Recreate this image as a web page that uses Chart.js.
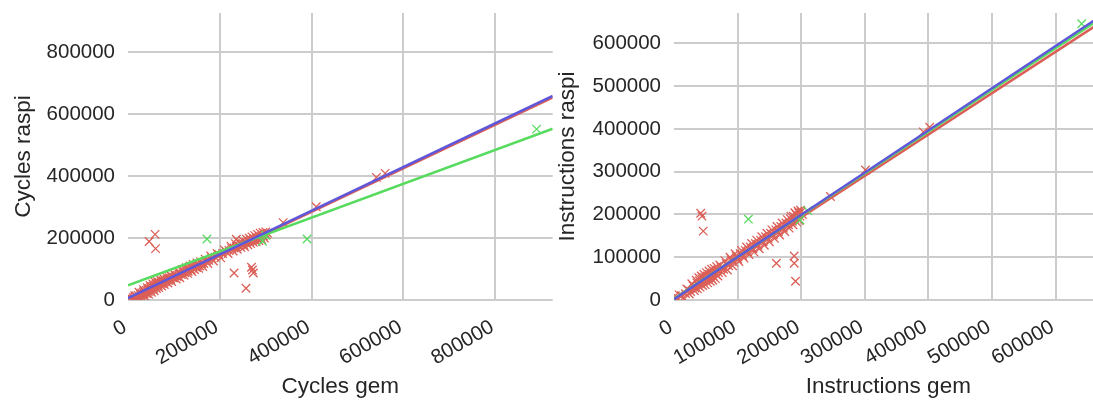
<!DOCTYPE html>
<html>
<head>
<meta charset="utf-8">
<script src="https://cdn.jsdelivr.net/npm/chart.js@4/dist/chart.umd.min.js"></script>
<style>
  html, body { margin: 0; padding: 0; background: #fff; overflow: hidden; }
  .box { position: absolute; top: 0; height: 400px; }
  #leftBox { left: 0; width: 560px; }
  #rightBox { left: 553px; width: 557px; }
</style>
</head>
<body>
<div id="leftBox" class="box"><canvas id="cyclesChart"></canvas></div>
<div id="rightBox" class="box"><canvas id="instrChart"></canvas></div>
<script>
// cycles: gem (x) vs raspi (y)
var cyclesTicks = [0, 200000, 400000, 600000, 800000];
var cyclesRed = [
  [8000,3000],[12000,8000],[14000,2000],[18000,12000],[20000,5000],[22000,15000],[25000,9000],[27000,18000],
  [28000,13000],[30000,22000],[32000,16000],[33000,26000],[35000,20000],[36000,28000],[38000,24000],[40000,31000],
  [41000,21000],[43000,34000],[44000,27000],[46000,37000],[47000,30000],[49000,40000],[50000,33000],[52000,43000],
  [53000,36000],[55000,45000],[56000,38000],[58000,48000],[60000,42000],[61000,51000],[63000,45000],[65000,54000],
  [66000,47000],[68000,57000],[70000,51000],[72000,60000],[74000,53000],[76000,62000],[78000,57000],[80000,65000],
  [82000,59000],[85000,66000],[88000,63000],[90000,72000],[93000,67000],[96000,75000],[99000,72000],[103000,79000],
  [107000,76000],[111000,84000],[116000,82000],[120000,90000],[124000,88000],[128000,96000],[131000,93000],
  [134000,100000],[137000,97000],[140000,104000],[143000,101000],[146000,108000],[149000,105000],[152000,112000],
  [156000,110000],[160000,117000],[165000,118000],[170000,126000],[176000,128000],[182000,134000],[190000,138000],
  [198000,146000],[206000,150000],[214000,156000],[220000,160000],[226000,166000],[231000,168000],[236000,172000],
  [240000,176000],[244000,174000],[248000,181000],[252000,178000],[256000,186000],[259000,183000],[262000,190000],
  [265000,187000],[268000,194000],[271000,191000],[274000,198000],[277000,195000],[280000,202000],[283000,199000],
  [286000,206000],[289000,203000],[292000,210000],[295000,207000],[298000,214000],[301000,211000],[304000,216000],
  [15000,14000],[19000,0],[24000,25000],[29000,4000],[34000,33000],[37000,12000],[42000,40000],[45000,19000],
  [48000,47000],[51000,25000],[54000,52000],[57000,30000],[59000,58000],[62000,37000],[64000,60000],[67000,40000],
  [71000,65000],[73000,45000],[77000,70000],[79000,50000],[84000,74000],[87000,55000],[92000,80000],[95000,60000],
  [100000,85000],[105000,68000],[110000,92000],[113000,72000],[118000,98000],[122000,80000],[127000,104000],
  [130000,86000],[135000,110000],[139000,92000],[142000,115000],[145000,98000],[150000,120000],[154000,102000],
  [158000,124000],[163000,108000],[168000,132000],[174000,118000],[180000,142000],[186000,126000],[194000,150000],
  [202000,136000],[210000,162000],[218000,150000],[224000,174000],[229000,158000],[234000,182000],[238000,164000],
  [242000,186000],[246000,170000],[250000,192000],[254000,172000],[258000,196000],[261000,178000],[264000,200000],
  [267000,182000],[270000,204000],[273000,186000],[276000,208000],[279000,188000],[282000,212000],[285000,192000],
  [288000,216000],[291000,196000],[294000,218000],[297000,200000],[300000,220000],
  [46000,189000],[59000,212000],[60000,166000],[231000,87000],[257000,38000],[269000,106000],[271000,97000],
  [273000,87000],[236000,196000],[338000,250000],[410000,301000],[541000,396000],[560000,409000],[2000,12000]
];
var cyclesGreen = [[172000,197000],[390000,197000],[890000,552000],[300000,209000],[293000,190000]];
var cyclesFitX = [0, 925000];
var cyclesFitRed = [4000, 654000];
var cyclesFitGreen = [47000, 553000];
var cyclesFitBlue = [6000, 659000];

// instructions: gem (x) vs raspi (y)
var instrTicks = [0, 100000, 200000, 300000, 400000, 500000, 600000];
var instrRed = [
  [4000,2000],[12000,10000],[18000,15000],[22000,24000],[26000,20000],[30000,33000],[33000,28000],[36000,40000],
  [38000,34000],[40000,45000],[42000,38000],[44000,50000],[46000,42000],[48000,53000],[50000,46000],[52000,56000],
  [54000,48000],[56000,60000],[58000,52000],[60000,63000],[62000,55000],[64000,66000],[66000,60000],[68000,70000],
  [70000,64000],[74000,76000],[78000,72000],[82000,85000],[86000,80000],[90000,94000],[94000,88000],[98000,102000],
  [100000,96000],[104000,108000],[108000,104000],[112000,116000],[116000,112000],[120000,124000],[124000,120000],
  [128000,132000],[132000,128000],[136000,140000],[140000,136000],[144000,148000],[148000,144000],[152000,156000],
  [156000,152000],[160000,164000],[164000,160000],[168000,172000],[172000,168000],[176000,180000],[180000,176000],
  [183000,190000],[186000,184000],[188000,196000],[190000,188000],[192000,200000],[194000,192000],[196000,204000],
  [198000,196000],[200000,206000],[202000,200000],
  [8000,12000],[14000,4000],[20000,26000],[24000,14000],[28000,38000],[32000,22000],[35000,46000],[37000,26000],
  [39000,52000],[41000,30000],[43000,56000],[45000,34000],[47000,60000],[49000,36000],[51000,64000],[53000,40000],
  [55000,68000],[57000,44000],[59000,72000],[61000,46000],[63000,74000],[65000,50000],[67000,78000],[69000,56000],
  [72000,82000],[76000,64000],[80000,92000],[84000,70000],[88000,100000],[92000,80000],[96000,108000],[102000,90000],
  [106000,116000],[110000,98000],[114000,124000],[118000,106000],[122000,132000],[126000,112000],[130000,140000],
  [134000,120000],[138000,148000],[142000,128000],[146000,156000],[150000,136000],[154000,164000],[158000,144000],
  [162000,172000],[166000,152000],[170000,180000],[174000,160000],[178000,188000],[181000,168000],[184000,196000],
  [187000,176000],[190000,204000],[193000,182000],[195000,208000],[197000,186000],[199000,210000],
  [42000,203000],[44000,196000],[46000,161000],[161000,86000],[189000,103000],[189000,86000],[191000,44000],
  [246000,242000],[301000,304000],[392000,393000],[402000,404000],[2000,10000]
];
var instrGreen = [[117000,189000],[198000,187000],[210000,209000],[641000,646000]];
var instrFitX = [0, 674000];
var instrFitRed = [0, 652000];
var instrFitGreen = [3000, 661000];
var instrFitBlue = [2000, 667000];

var red = '#db5f57';
var green = '#57db5f';
var blue = '#5f57db';
var gridColor = '#cccccc';
var textColor = '#262626';
var family = '"Liberation Sans", Arial, sans-serif';

function pts(list) {
  return list.map(function (p) { return { x: p[0], y: p[1] }; });
}

function marks(list, color, order) {
  return {
    data: pts(list), order: order, showLine: false,
    pointStyle: 'crossRot', pointRadius: 6, borderWidth: 1.3,
    borderColor: color, backgroundColor: color
  };
}

function fit(xs, ys, color, order) {
  return {
    data: [{ x: xs[0], y: ys[0] }, { x: xs[1], y: ys[1] }], order: order,
    showLine: true, pointRadius: 0, borderWidth: 2.5, borderColor: color, fill: false
  };
}

function axis(ticks, max, title, isX, fitSize, titlePad) {
  return {
    type: 'linear', min: 0, max: max,
    afterBuildTicks: function (sc) { sc.ticks = ticks.map(function (v) { return { value: v }; }); },
    afterFit: function (sc) {
      if (isX) sc.height = fitSize; else sc.width = fitSize;
      // no extra room for edge labels, the layout padding does it
      sc.paddingTop = 0; sc.paddingBottom = 0; sc.paddingLeft = 0; sc.paddingRight = 0;
    },
    grid: {
      color: function (c) { return isX && c.tick && c.tick.value === 0 ? 'rgba(0,0,0,0)' : gridColor; },
      lineWidth: 2, drawTicks: false
    },
    border: { display: false },
    ticks: {
      autoSkip: false, minRotation: isX ? 30 : 0, maxRotation: isX ? 30 : 0,
      padding: isX ? 15 : 13, labelOffset: isX ? -3 : 0, color: textColor, font: { family: family, size: 20.5 },
      callback: function (v) { return String(v); }
    },
    title: { display: true, text: title, color: textColor, font: { family: family, size: 22.5 }, padding: titlePad }
  };
}

function build(id, s) {
  return new Chart(document.getElementById(id), {
    type: 'scatter',
    data: {
      datasets: [
        marks(s.red, red, 5),
        fit(s.fitX, s.fitRed, red, 4),
        marks(s.green, green, 3),
        fit(s.fitX, s.fitGreen, green, 2),
        fit(s.fitX, s.fitBlue, blue, 1)
      ]
    },
    options: {
      responsive: true, maintainAspectRatio: false, animation: false, devicePixelRatio: 1,
      events: [],
      layout: { padding: { top: 13, right: 0, bottom: 0, left: 0 } },
      plugins: { legend: { display: false }, tooltip: { enabled: false } },
      scales: {
        x: axis(s.xTicks, s.xMax, s.xTitle, true, 100, { top: 0, bottom: 0 }),
        y: axis(s.yTicks, s.yMax, s.yTitle, false, s.yWidth, { top: s.yTitlePad, bottom: 0 })
      }
    }
  });
}

build('cyclesChart', {
  red: cyclesRed, green: cyclesGreen,
  fitX: cyclesFitX, fitRed: cyclesFitRed, fitGreen: cyclesFitGreen, fitBlue: cyclesFitBlue,
  xTicks: cyclesTicks, yTicks: cyclesTicks, xMax: 925000, yMax: 927000,
  xTitle: 'Cycles gem', yTitle: 'Cycles raspi', yWidth: 128, yTitlePad: 10
});

build('instrChart', {
  red: instrRed, green: instrGreen,
  fitX: instrFitX, fitRed: instrFitRed, fitGreen: instrFitGreen, fitBlue: instrFitBlue,
  xTicks: instrTicks, yTicks: instrTicks, xMax: 674000, yMax: 671000,
  xTitle: 'Instructions gem', yTitle: 'Instructions raspi', yWidth: 121, yTitlePad: 1.5
});
</script>
</body>
</html>
